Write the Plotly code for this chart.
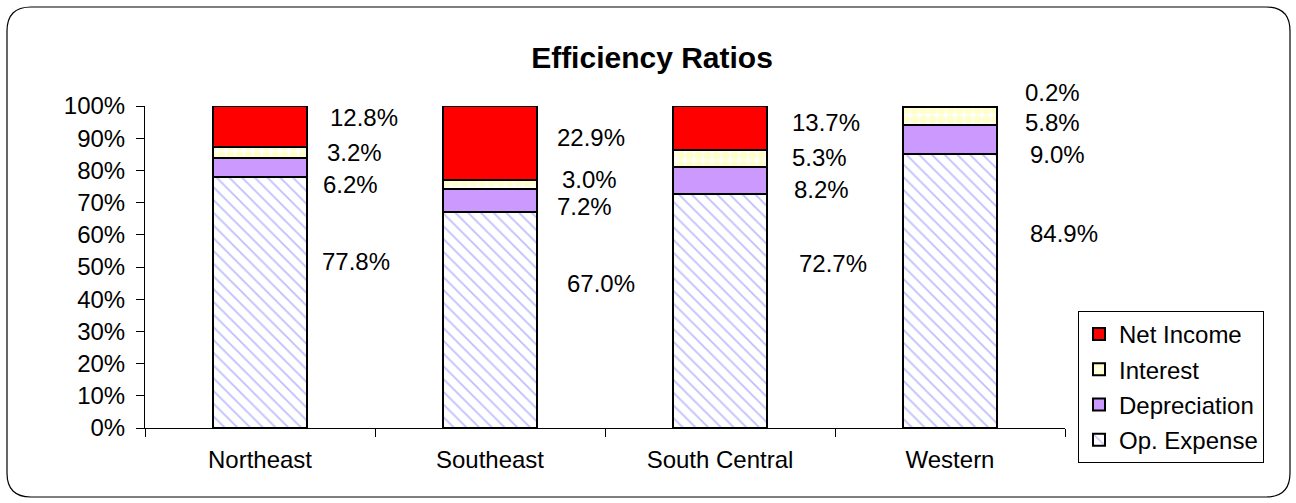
import plotly.graph_objects as go

regions = ["Northeast", "Southeast", "South Central", "Western"]
op_expense = [77.8, 67.0, 72.7, 84.9]
depreciation = [6.2, 7.2, 8.2, 9.0]
interest = [3.2, 3.0, 5.3, 5.8]
net_income = [12.8, 22.9, 13.7, 0.2]

# label nudges (pixels) so the value labels sit where the original put them
label_dy = {
    "Op. Expense": [41, 37, 47, 58],
    "Depreciation": [-17, -6, -9, -15],
    "Interest": [0, 5, 1, -7],
    "Net Income": [9, 5, 6, 14],
}
label_dx = {
    "Op. Expense": [60, 75, 77, 78],
    "Depreciation": [61, 65, 72, 78],
    "Interest": [65, 70, 70, 73],
    "Net Income": [68, 65, 70, 73],
}

FONT = "Arial, Liberation Sans, sans-serif"
W, H = 1296, 503
L, R, T, B = 145, 231, 106, 75

series = [
    ("Op. Expense", op_expense, dict(color="white", pattern=dict(shape="\\", fgcolor="#8080ff", bgcolor="white", size=9, solidity=0.2))),
    ("Depreciation", depreciation, dict(color="#cc99ff")),
    ("Interest", interest, dict(color="white", pattern=dict(shape=".", fgcolor="#ffff99", bgcolor="white", size=9, solidity=0.7))),
    ("Net Income", net_income, dict(color="#ff0000")),
]

fig = go.Figure()
for k, (name, vals, mk) in enumerate(series):
    mk["line"] = dict(color="black", width=2)
    fig.add_trace(go.Bar(x=regions, y=vals, name=name, marker=mk, legendgroup=name,
                         legendrank=len(series) - k, width=0.41))

# value labels to the right of each bar
totals = [sum(v) for v in zip(op_expense, depreciation, interest, net_income)]
base = [0.0] * len(regions)
for name, vals, _ in series:
    for i, v in enumerate(vals):
        mid = (base[i] + v / 2) / totals[i]
        fig.add_annotation(x=regions[i], y=mid, text=f"{v:.1f}%", showarrow=False,
                           xanchor="left", xshift=label_dx[name][i], yshift=label_dy[name][i],
                           font=dict(size=24, color="black", family=FONT))
        base[i] += v

# rounded outer frame
pw, ph = W - L - R, H - T - B
def px(x): return (x - L) / pw
def py(y): return (H - B - y) / ph
x0, x1, y0, y1, r = 7, 1290, 7, 497, 24
path = (f"M {px(x0 + r)},{py(y0)} L {px(x1 - r)},{py(y0)} "
        f"Q {px(x1)},{py(y0)} {px(x1)},{py(y0 + r)} L {px(x1)},{py(y1 - r)} "
        f"Q {px(x1)},{py(y1)} {px(x1 - r)},{py(y1)} L {px(x0 + r)},{py(y1)} "
        f"Q {px(x0)},{py(y1)} {px(x0)},{py(y1 - r)} L {px(x0)},{py(y0 + r)} "
        f"Q {px(x0)},{py(y0)} {px(x0 + r)},{py(y0)} Z")
fig.add_shape(type="path", path=path, xref="paper", yref="paper", line=dict(color="black", width=1.2))

fig.update_layout(
    width=W, height=H, barmode="stack", barnorm="fraction",
    margin=dict(l=L, r=R, t=T, b=B, autoexpand=False),
    plot_bgcolor="white", paper_bgcolor="white",
    font=dict(family=FONT, size=24, color="black"),
    title=dict(text="<b>Efficiency Ratios</b>", x=652 / W, xanchor="center", y=1 - 57 / H, yanchor="middle",
               font=dict(size=30, family=FONT)),
    legend=dict(x=px(1078), y=py(311), xanchor="left", yanchor="top", traceorder="grouped",
                tracegroupgap=1, bordercolor="black", borderwidth=1, bgcolor="white",
                font=dict(size=24, family=FONT), itemwidth=30),
    showlegend=True,
)
fig.update_yaxes(range=[0, 1], tickformat=".0%", dtick=0.1, showgrid=False, showline=True, linecolor="black",
                 linewidth=1, ticks="outside", ticklen=8, tickcolor="black", zeroline=False,
                 ticklabelstandoff=6)
fig.update_xaxes(range=[-0.5, len(regions) - 0.5], showline=True, linecolor="black", linewidth=1,
                 ticks="outside", tickson="boundaries", ticklen=8, tickcolor="black", showgrid=False,
                 ticklabelstandoff=10)

# drop the browser's default page margin so the figure sits at the window's corner
fig.write_html("out.html", config={"displayModeBar": False},
               post_script="document.body.style.margin='0px';")
